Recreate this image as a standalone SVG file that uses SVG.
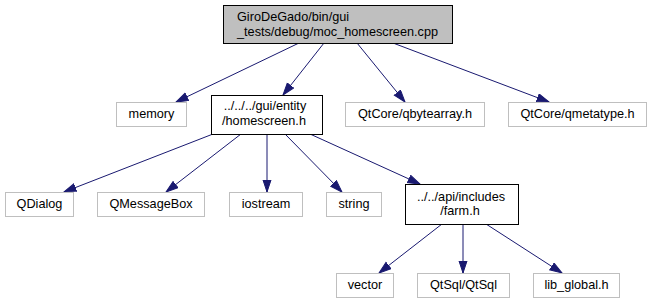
<svg xmlns="http://www.w3.org/2000/svg" width="653" height="305" viewBox="0 0 653 305">
  <defs>
    <marker id="arrow" markerUnits="userSpaceOnUse" markerWidth="14" markerHeight="10" refX="12.5" refY="4.5" orient="auto">
      <path d="M0.5,0.5 L12.5,4.5 L0.5,8.5 z" fill="#191970" stroke="#191970" stroke-width="1"/>
    </marker>
  </defs>
  <style>
    text { font-family: "Liberation Sans", Arial, Helvetica, sans-serif; font-size: 12.7px; fill: #000000; }
    .c { text-anchor: middle; }
    .root rect { fill: #bfbfbf; stroke: #000000; stroke-width: 1; }
    .local rect { fill: #ffffff; stroke: #000000; stroke-width: 1; }
    .ext rect { fill: #ffffff; stroke: #bfbfbf; stroke-width: 1; }
    #edges line { stroke: #191970; stroke-width: 1; marker-end: url(#arrow); }
  </style>
  <rect width="653" height="305" fill="#ffffff"/>

  <g id="edges">
    <line x1="299" y1="43" x2="176" y2="102"/>
    <line x1="324" y1="43" x2="283" y2="95"/>
    <line x1="357" y1="43" x2="405" y2="102"/>
    <line x1="393" y1="43" x2="549" y2="102"/>
    <line x1="213" y1="134" x2="64" y2="192"/>
    <line x1="241" y1="134" x2="166" y2="192"/>
    <line x1="267" y1="134" x2="267" y2="192"/>
    <line x1="285" y1="134" x2="342" y2="192"/>
    <line x1="310" y1="134" x2="420" y2="184"/>
    <line x1="442" y1="224" x2="379" y2="273"/>
    <line x1="463" y1="224" x2="463" y2="273"/>
    <line x1="486" y1="224" x2="562" y2="273"/>
  </g>

  <g id="moc_homescreen_cpp" class="root">
    <rect x="223.5" y="5.5" width="229" height="38"/>
    <text x="237" y="21">GiroDeGado/bin/gui</text>
    <text x="237" y="36">_tests/debug/moc_homescreen.cpp</text>
  </g>
  <g id="memory" class="ext">
    <rect x="116.5" y="102.5" width="70" height="24"/>
    <text class="c" x="151.5" y="118">memory</text>
  </g>
  <g id="homescreen_h" class="local">
    <rect x="211.5" y="95.5" width="111" height="39"/>
    <text class="c" x="265" y="110">../../../gui/entity</text>
    <text class="c" x="264" y="125">/homescreen.h</text>
  </g>
  <g id="qbytearray_h" class="ext">
    <rect x="345.5" y="102.5" width="139" height="24"/>
    <text class="c" x="415" y="118">QtCore/qbytearray.h</text>
  </g>
  <g id="qmetatype_h" class="ext">
    <rect x="508.5" y="102.5" width="138" height="24"/>
    <text class="c" x="577.5" y="118">QtCore/qmetatype.h</text>
  </g>
  <g id="QDialog" class="ext">
    <rect x="5.5" y="192.5" width="68" height="24"/>
    <text class="c" x="39.5" y="208">QDialog</text>
  </g>
  <g id="QMessageBox" class="ext">
    <rect x="97.5" y="192.5" width="107" height="24"/>
    <text class="c" x="151" y="208">QMessageBox</text>
  </g>
  <g id="iostream" class="ext">
    <rect x="229.5" y="192.5" width="73" height="24"/>
    <text class="c" x="266" y="208">iostream</text>
  </g>
  <g id="string" class="ext">
    <rect x="326.5" y="192.5" width="55" height="24"/>
    <text class="c" x="354" y="208">string</text>
  </g>
  <g id="farm_h" class="local">
    <rect x="405.5" y="184.5" width="113" height="40"/>
    <text class="c" x="461" y="201">../../api/includes</text>
    <text class="c" x="460" y="215">/farm.h</text>
  </g>
  <g id="vector" class="ext">
    <rect x="336.5" y="273.5" width="57" height="24"/>
    <text class="c" x="365" y="289">vector</text>
  </g>
  <g id="QtSql" class="ext">
    <rect x="417.5" y="273.5" width="92" height="24"/>
    <text class="c" x="463.5" y="289">QtSql/QtSql</text>
  </g>
  <g id="lib_global_h" class="ext">
    <rect x="533.5" y="273.5" width="86" height="24"/>
    <text class="c" x="576.5" y="289">lib_global.h</text>
  </g>
</svg>
